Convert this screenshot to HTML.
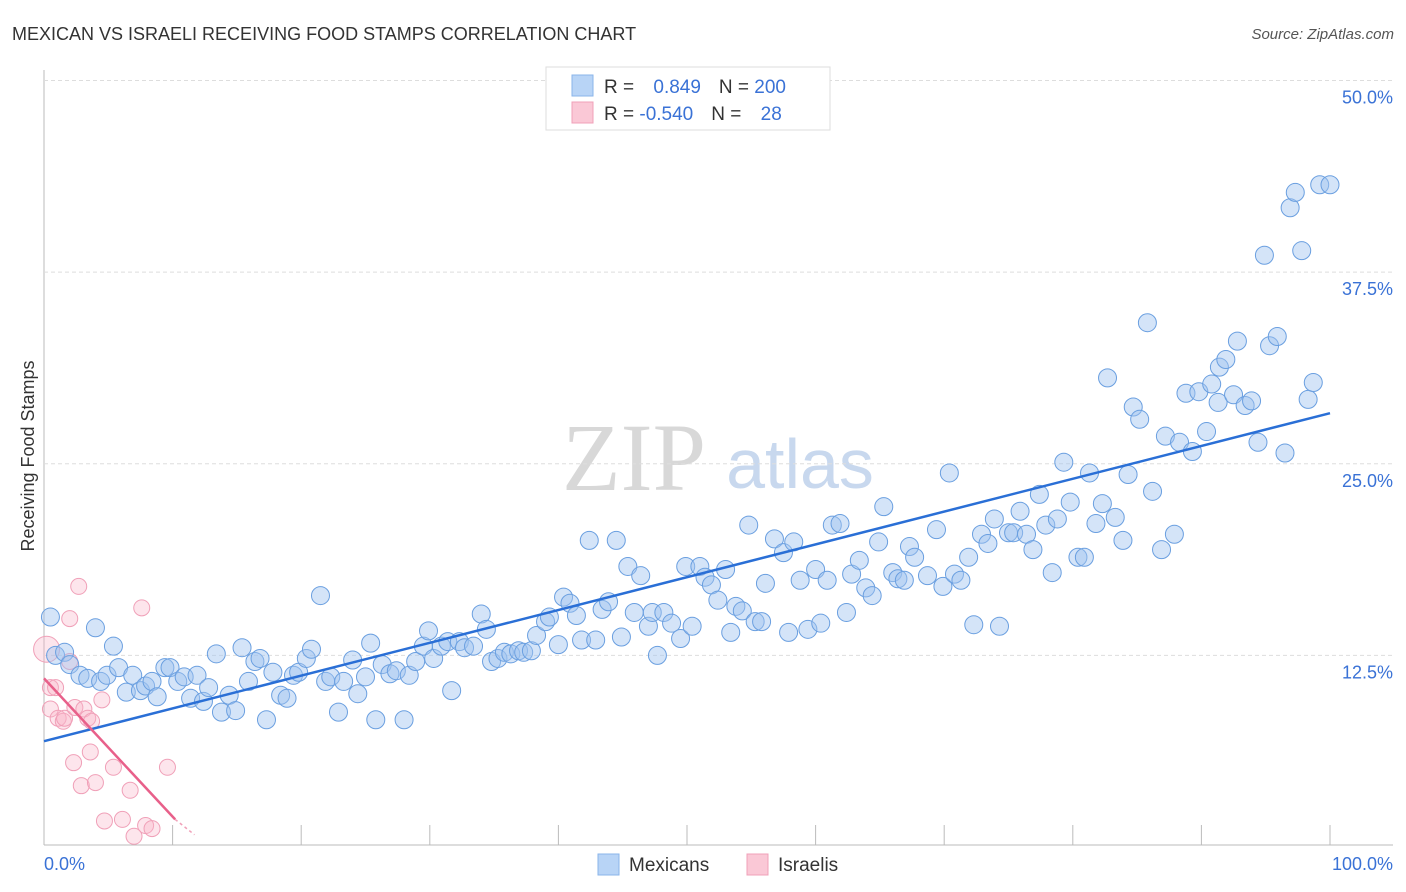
<!DOCTYPE html>
<html><head><meta charset="utf-8"><style>
body{margin:0;background:#fff;}
svg{display:block;font-family:"Liberation Sans",sans-serif;}
</style></head><body>
<svg id="c" width="1406" height="892">
<text x="12" y="40" font-size="18" fill="#333">MEXICAN VS ISRAELI RECEIVING FOOD STAMPS CORRELATION CHART</text>
<text x="1394" y="39" font-size="15" fill="#555" text-anchor="end" font-style="italic">Source: ZipAtlas.com</text>
<text x="634" y="490" font-size="96" fill="#d8d8d8" text-anchor="middle" font-family="Liberation Serif,serif">ZIP</text>
<text x="800" y="488" font-size="70" fill="#c8d8ee" text-anchor="middle">atlas</text>
<text x="34" y="456" font-size="18" fill="#333" text-anchor="middle" transform="rotate(-90 34 456)">Receiving Food Stamps</text>
<g id="grid"></g><g id="marks"></g><g id="lines"></g>
<g>
<rect x="546" y="67" width="284" height="63" fill="#fff" stroke="#ddd"/>
<rect x="572" y="75" width="21" height="21" fill="#b8d4f6" stroke="#8ab4ea"/>
<rect x="572" y="102" width="21" height="21" fill="#fac8d6" stroke="#f0a0b8"/>
<text x="604" y="93" font-size="19" fill="#333">R = <tspan fill="#3a72d6" dx="14">0.849</tspan><tspan dx="18" fill="#333">N = </tspan><tspan fill="#3a72d6">200</tspan></text>
<text x="604" y="120" font-size="19" fill="#333">R = <tspan fill="#3a72d6">-0.540</tspan><tspan dx="18" fill="#333">N = </tspan><tspan fill="#3a72d6" dx="14">28</tspan></text>
</g>
<g>
<rect x="598" y="854" width="21" height="21" fill="#b8d4f6" stroke="#8ab4ea"/>
<text x="629" y="871" font-size="19" fill="#333">Mexicans</text>
<rect x="747" y="854" width="21" height="21" fill="#fac8d6" stroke="#f0a0b8"/>
<text x="778" y="871" font-size="19" fill="#333">Israelis</text>
</g>
</svg>
<script>
const yTicks=[12.5,25,37.5,50];
const yTickLabels=["12.5%","25.0%","37.5%","50.0%"];
const xTicks=[0,10,20,30,40,50,60,70,80,90,100];
const mexX=[0.5,0.9,1.6,2.0,2.8,4.0,3.4,4.4,4.9,5.4,5.8,6.4,6.9,7.5,7.9,8.4,8.8,9.4,9.8,10.4,10.9,11.4,11.9,12.4,12.8,13.4,13.8,14.4,14.9,15.4,15.9,16.4,16.8,17.3,17.8,18.4,18.9,19.4,19.8,20.4,20.8,21.5,21.9,22.3,22.9,23.3,24.0,24.4,25.0,25.4,25.8,26.3,26.9,27.4,28.0,28.4,28.9,29.5,29.9,30.3,30.9,31.4,31.7,32.3,32.7,33.4,34.0,34.4,34.8,35.3,35.8,36.3,36.9,37.3,37.9,38.3,39.0,39.3,40.0,40.4,40.9,41.4,41.8,42.4,42.9,43.4,43.9,44.5,44.9,45.4,45.9,46.4,47.0,47.3,47.7,48.2,48.8,49.5,49.9,50.4,51.0,51.4,51.9,52.4,53.0,53.4,53.8,54.3,54.8,55.3,55.8,56.1,56.8,57.5,57.9,58.3,58.8,59.4,60.0,60.4,60.9,61.3,61.9,62.4,62.8,63.4,63.9,64.4,64.9,65.3,66.0,66.4,66.9,67.3,67.7,68.7,69.4,69.9,70.4,70.8,71.3,71.9,72.3,72.9,73.4,73.9,74.3,75.0,75.4,75.9,76.4,76.9,77.4,77.9,78.4,78.8,79.3,79.8,80.4,80.9,81.3,81.8,82.3,82.7,83.3,83.9,84.3,84.7,85.2,85.8,86.2,86.9,87.2,87.9,88.3,88.8,89.3,89.8,90.4,90.8,91.3,91.4,91.9,92.5,92.8,93.4,93.9,94.4,94.9,95.3,95.9,96.5,96.9,97.3,97.8,98.3,98.7,99.2,100.0];
const mexY=[15.0,12.5,12.7,11.9,11.2,14.3,11.0,10.8,11.2,13.1,11.7,10.1,11.2,10.2,10.5,10.8,9.8,11.7,11.7,10.8,11.1,9.7,11.2,9.5,10.4,12.6,8.8,9.9,8.9,13.0,10.8,12.1,12.3,8.3,11.4,9.9,9.7,11.2,11.4,12.3,12.9,16.4,10.8,11.1,8.8,10.8,12.2,10.0,11.1,13.3,8.3,11.9,11.3,11.5,8.3,11.2,12.1,13.1,14.1,12.3,13.1,13.4,10.2,13.4,13.0,13.1,15.2,14.2,12.1,12.3,12.7,12.6,12.8,12.7,12.8,13.8,14.7,15.0,13.2,16.3,15.9,15.1,13.5,20.0,13.5,15.5,16.0,20.0,13.7,18.3,15.3,17.7,14.4,15.3,12.5,15.3,14.6,13.6,18.3,14.4,18.3,17.6,17.1,16.1,18.1,14.0,15.7,15.4,21.0,14.7,14.7,17.2,20.1,19.2,14.0,19.9,17.4,14.2,18.1,14.6,17.4,21.0,21.1,15.3,17.8,18.7,16.9,16.4,19.9,22.2,17.9,17.5,17.4,19.6,18.9,17.7,20.7,17.0,24.4,17.8,17.4,18.9,14.5,20.4,19.8,21.4,14.4,20.5,20.5,21.9,20.4,19.4,23.0,21.0,17.9,21.4,25.1,22.5,18.9,18.9,24.4,21.1,22.4,30.6,21.5,20.0,24.3,28.7,27.9,34.2,23.2,19.4,26.8,20.4,26.4,29.6,25.8,29.7,27.1,30.2,29.0,31.3,31.8,29.5,33.0,28.8,29.1,26.4,38.6,32.7,33.3,25.7,41.7,42.7,38.9,29.2,30.3,43.2,43.2];
const isrX=[0.2,0.5,0.5,0.9,1.1,1.5,1.6,2.0,2.0,2.3,2.4,2.7,2.9,3.1,3.4,3.6,3.7,4.0,4.5,4.7,5.4,6.1,6.7,7.0,7.6,7.9,8.4,9.6];
const isrY=[12.9,10.4,9.0,10.4,8.4,8.2,8.4,14.9,12.1,5.5,9.1,17.0,4.0,9.0,8.4,6.2,8.2,4.2,9.6,1.7,5.2,1.8,3.7,0.7,15.6,1.4,1.2,5.2];
const mexTrendX=[0,100], mexTrendY=[6.9,28.3];
const isrTrendX=[0,10.2], isrTrendY=[11.0,1.8];
const isrDashX=[10.2,11.7], isrDashY=[1.8,0.8];

const X=v=>44+v*12.86, Y=v=>847-v*15.33;
const NS="http://www.w3.org/2000/svg";
function mk(tag,attrs,parent){const e=document.createElementNS(NS,tag);for(const k in attrs)e.setAttribute(k,attrs[k]);parent.appendChild(e);return e;}
const g=document.getElementById('grid'),m=document.getElementById('marks'),l=document.getElementById('lines');
let ax=mk('line',{x1:44,y1:70,x2:44,y2:845,stroke:'#bbb'},g);


let bx=mk('line',{x1:44,y1:845,x2:1393,y2:845,stroke:'#bbb'},g);


yTicks.forEach((t,i)=>{
 const gl=mk('line',{x1:44,y1:Y(t),x2:1393,y2:Y(t),stroke:'#ddd','stroke-dasharray':'4 3'},g);
 
 
 const tx=mk('text',{x:1393,y:Y(t)+23,'font-size':18,fill:'#3a72d6','text-anchor':'end'},g);
 tx.textContent=yTickLabels[i];
 
 
});
xTicks.forEach(t=>{
 const tk=mk('line',{x1:X(t),y1:825,x2:X(t),y2:845,stroke:'#bbb'},g);
 
 
});
const x0=mk('text',{x:44,y:870,'font-size':18,fill:'#3a72d6'},g);x0.textContent='0.0%';


const x1=mk('text',{x:1393,y:870,'font-size':18,fill:'#3a72d6','text-anchor':'end'},g);x1.textContent='100.0%';


isrX.forEach((v,i)=>{
 const c=mk('circle',{cx:X(v),cy:Y(isrY[i]),r:i==0?13:8,fill:'rgba(248,180,200,0.35)',stroke:'#f0a0b8','stroke-width':1},m);
 
 
});
mexX.forEach((v,i)=>{
 const c=mk('circle',{cx:X(v),cy:Y(mexY[i]),r:9,fill:'rgba(160,196,240,0.45)',stroke:'#6a9fe0','stroke-width':1},m);
 
 
});
const b=mk('line',{x1:X(mexTrendX[0]),y1:Y(mexTrendY[0]),x2:X(mexTrendX[1]),y2:Y(mexTrendY[1]),stroke:'#2a6fd6','stroke-width':2.5},l);


const p=mk('line',{x1:X(isrTrendX[0]),y1:Y(isrTrendY[0]),x2:X(isrTrendX[1]),y2:Y(isrTrendY[1]),stroke:'#e8608a','stroke-width':2.5},l);


const pd=mk('line',{x1:X(isrDashX[0]),y1:Y(isrDashY[0]),x2:X(isrDashX[1]),y2:Y(isrDashY[1]),stroke:'#f0a0b8','stroke-width':1.5,'stroke-dasharray':'3 3'},l);


</script>
</body></html>
